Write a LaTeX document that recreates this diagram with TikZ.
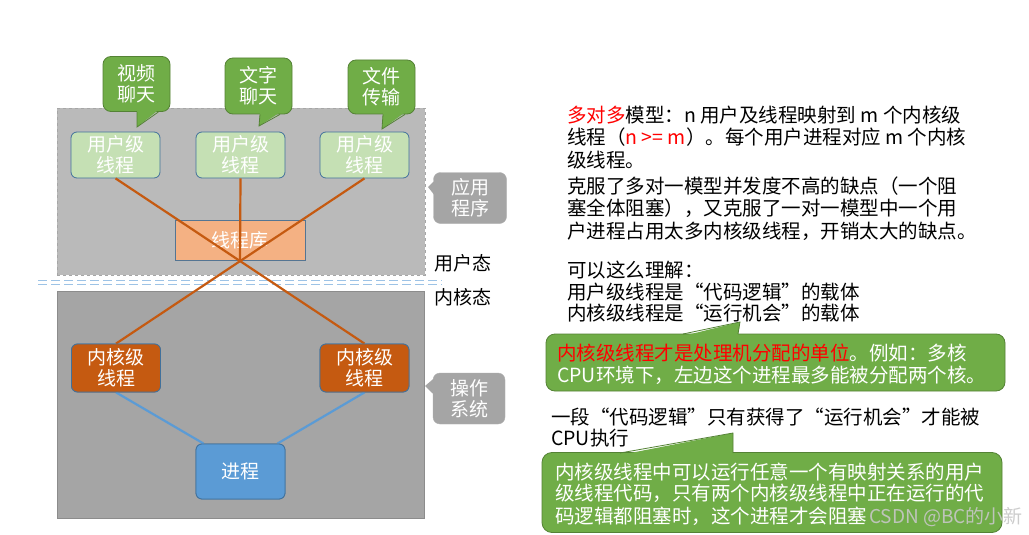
\documentclass[tikz,border=0pt]{standalone}
\usepackage{fontspec}
\setmainfont{Noto Sans CJK SC}
\usetikzlibrary{calc}
\definecolor{upgray}{HTML}{BABABA}
\definecolor{lowgray}{HTML}{A5A5A5}
\definecolor{uthread}{HTML}{C5E0B4}
\definecolor{kthread}{HTML}{C55A11}
\definecolor{bborder}{HTML}{41719C}
\definecolor{procblue}{HTML}{5B9BD5}
\definecolor{libfill}{HTML}{F4B183}
\definecolor{bubgreen}{HTML}{70AD47}
\definecolor{bubborder}{HTML}{548235}
\definecolor{calgray}{HTML}{A5A5A5}
\definecolor{dlblue}{HTML}{9DC3E6}
\begin{document}
\begin{tikzpicture}[x=1pt,y=-1pt,
  boxtxt/.style={font=\fontsize{19}{21}\selectfont, text=white, align=center},
  ubox/.style={boxtxt, draw=bborder, fill=uthread, line width=0.8pt, rounded corners=6pt, minimum width=89pt, minimum height=46pt, inner sep=0pt},
  kbox/.style={ubox, fill=kthread, minimum height=48pt},
  pbox/.style={ubox, fill=procblue, minimum height=55pt},
  bubble/.style={boxtxt, fill=bubgreen, draw=bubborder, line width=0.8pt, rounded corners=8pt, inner sep=0pt},
  graycall/.style={boxtxt, fill=calgray, draw=calgray!90!white, rounded corners=7pt, inner sep=0pt, minimum width=73pt, minimum height=51pt},
  oline/.style={draw=kthread, line width=2.2pt},
  bline/.style={draw=procblue, line width=2.2pt},
  body/.style={font=\fontsize{19.5}{23}\selectfont, anchor=base west, inner sep=0pt},
  wbody/.style={body, text=white},
  side/.style={font=\fontsize{19}{21}\selectfont, anchor=base west, inner sep=0pt},
]
\useasboundingbox[fill=white] (0,0) rectangle (1029,535);

% background regions
\node[draw=gray!70, dashed, fill=upgray, minimum width=368pt, minimum height=167pt, inner sep=0pt] (ub) at (241,191.5) {};
\node[draw=gray!90, fill=lowgray, line width=0.8pt, minimum width=367pt, minimum height=227pt, inner sep=0pt] (lb) at (240.5,404.5) {};

% double dashed separator
\coordinate (d1) at (38,282.5);
\coordinate (d2) at (442,282.5);
\draw[draw=dlblue, line width=1.1pt, dash pattern=on 9pt off 4pt] ($(d1)+(0,-1.7)$) -- ($(d2)+(0,-1.7)$);
\draw[draw=dlblue, line width=1.1pt, dash pattern=on 9pt off 4pt] ($(d1)+(0,1.7)$) -- ($(d2)+(0,1.7)$);

% thread library
\node[boxtxt, draw=bborder!70!gray, fill=libfill, line width=0.8pt, minimum width=130pt, minimum height=40pt, inner sep=0pt] (lib) at (240,240) {线程库};

% user-level threads
\node[ubox] (u1) at (115.5,155) {用户级\\线程};
\node[ubox] (u2) at (240.5,155) {用户级\\线程};
\node[ubox] (u3) at (364.5,155) {用户级\\线程};

% kernel-level threads and process
\node[kbox] (k1) at (116,368) {内核级\\线程};
\node[kbox] (k2) at (364.5,368) {内核级\\线程};
\node[pbox] (p) at (240.5,471.5) {进程};

% connectors
\coordinate (x) at (240,261);
\draw[oline] (u1.south) -- (k2.north);
\draw[oline] (u3.south) -- (k1.north);
\draw[oline] (u2.south) -- (x);
\draw[bline] (k1.south) -- ($(p.north west)+(8,0)$);
\draw[bline] (k2.south) -- ($(p.north east)+(-8,0)$);
% redraw boxes over line ends
\node[kbox] at (k1) {内核级\\线程};
\node[kbox] at (k2) {内核级\\线程};
\node[pbox] at (p) {进程};

% speech bubbles at top
\node[bubble, minimum width=67pt, minimum height=55pt] (b1) at (136.5,84) {视频\\聊天};
\node[bubble, minimum width=67pt, minimum height=56pt] (b2) at (258.5,86) {文字\\聊天};
\node[bubble, minimum width=67pt, minimum height=54pt] (b3) at (381.5,87) {文件\\传输};
\fill[bubgreen] ($(b1.south)+(0.5,-2)$) -- (137,127) -- ($(b1.south)+(22,-2)$) -- cycle;
\draw[bubborder, line width=0.8pt] ($(b1.south)+(0.5,0)$) -- (137,127) -- ($(b1.south)+(22,0)$);
\fill[bubgreen] ($(b2.south)+(1.5,-2)$) -- (259,126) -- ($(b2.south)+(21.5,-2)$) -- cycle;
\draw[bubborder, line width=0.8pt] ($(b2.south)+(1.5,0)$) -- (259,126) -- ($(b2.south)+(21.5,0)$);
\fill[bubgreen] ($(b3.south)+(1.5,-2)$) -- (382,129) -- ($(b3.south)+(23.5,-2)$) -- cycle;
\draw[bubborder, line width=0.8pt] ($(b3.south)+(1.5,0)$) -- (382,129) -- ($(b3.south)+(23.5,0)$);

% gray side callouts
\node[graycall] (app) at (470,198) {应用\\程序};
\fill[calgray] ($(app.west)+(1,-17)$) -- (428,187) -- ($(app.west)+(1,-3)$) -- cycle;
\node[graycall, minimum width=72pt] (os) at (469,398.5) {操作\\系统};
\fill[calgray] ($(os.west)+(1,-20)$) -- (425,386) -- ($(os.west)+(1,-4)$) -- cycle;

% mode labels
\node[side] (um) at (434,270) {用户态};
\node[side] (km) at (434,304) {内核态};

% right text
\node[body] (t1) at (567,122) {\textcolor{red}{多对多}模型：n 用户及线程映射到 m 个内核级};
\node[body] (t2) at (567,144) {线程（\textcolor{red}{n >= m}）。每个用户进程对应 m 个内核};
\node[body] (t3) at (567,167) {级线程。};
\node[body] (t4) at (567,193) {克服了多对一模型并发度不高的缺点（一个阻};
\node[body] (t5) at (567,215) {塞全体阻塞），又克服了一对一模型中一个用};
\node[body] (t6) at (567,238) {户进程占用太多内核级线程，开销太大的缺点。};
\node[body] (t7) at (567,277) {可以这么理解：};
\node[body] (t8) at (567,299) {用户级线程是“代码逻辑”的载体};
\node[body] (t9) at (567,320) {内核级线程是“运行机会”的载体};

% green callout 1
\node[fill=bubgreen, draw=bubborder, line width=0.8pt, rounded corners=9pt, minimum width=459pt, minimum height=57pt, inner sep=0pt] (c1) at (775.5,362.5) {};
\fill[bubgreen] (683,336) -- (740,322) -- (738,336) -- cycle;
\draw[bubborder, line width=0.8pt] (683,334) -- (740,322) -- (738,334);
\node[wbody] (c1a) at (557,360) {\textcolor{red}{内核级线程才是处理机分配的单位}。例如：多核};
\node[wbody] (c1b) at (557,382) {CPU环境下，左边这个进程最多能被分配两个核。};

\node[body] (t10) at (551,424) {一段“代码逻辑”只有获得了“运行机会”才能被};
\node[body] (t11) at (551,445) {CPU执行};

% green callout 2
\node[fill=bubgreen, draw=bubborder, line width=0.8pt, rounded corners=10pt, minimum width=460pt, minimum height=80pt, inner sep=0pt] (c2) at (772,492.5) {};
\fill[bubgreen] (620,455) -- (733,433) -- (733,455) -- cycle;
\draw[bubborder, line width=0.8pt] (620,453) -- (733,433) -- (733,453);
\node[wbody] (c2a) at (555,479) {内核级线程中可以运行任意一个有映射关系的用户};
\node[wbody] (c2b) at (555,500) {级线程代码，只有两个内核级线程中正在运行的代};
\node[wbody] (c2c) at (555,523) {码逻辑都阻塞时，这个进程才会阻塞};
\node[font=\fontsize{19}{21}\selectfont, text=black!22, text opacity=0.9, anchor=base west, inner sep=0pt] (wm) at (869,523) {CSDN @BC的小新};
\end{tikzpicture}
\end{document}
